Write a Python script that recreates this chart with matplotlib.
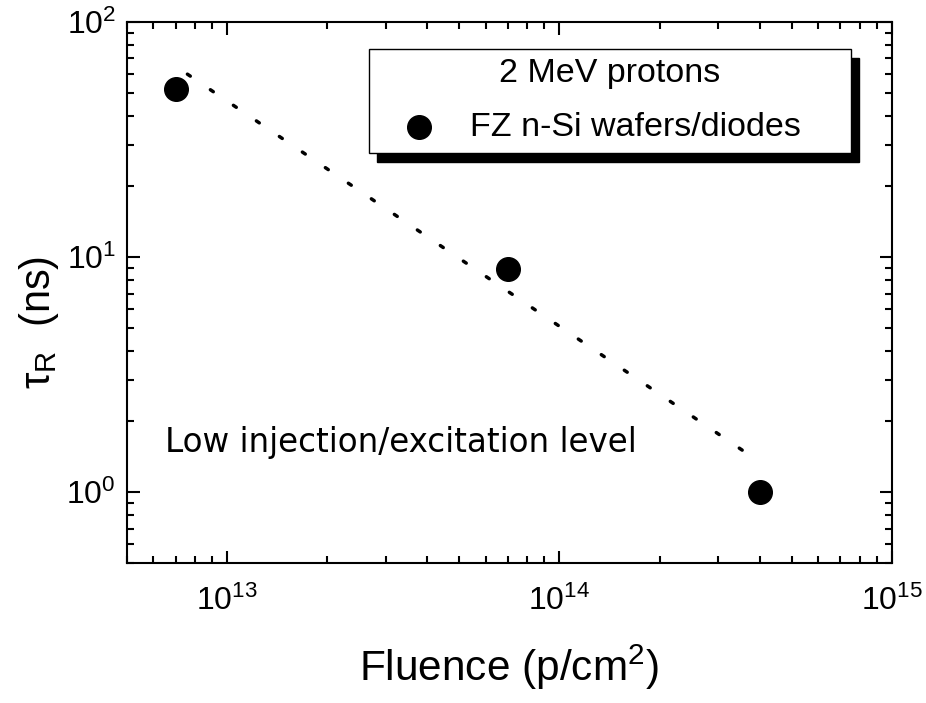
import matplotlib
matplotlib.use("Agg")
import matplotlib.pyplot as plt
from matplotlib.patches import Rectangle

plt.rcParams['font.family'] = ['Liberation Sans', 'DejaVu Sans']
plt.rcParams['mathtext.fontset'] = 'custom'
plt.rcParams['mathtext.rm'] = 'Liberation Sans'
plt.rcParams['mathtext.it'] = 'Liberation Sans:italic'
plt.rcParams['mathtext.bf'] = 'Liberation Sans:bold'

# measured points
fluence = [7e12, 7e13, 4e14]
tau_r = [52, 8.9, 1.0]

# power-law fit line (dotted)
fit_x = [7.6e12, 3.7e14]
fit_y = [60, 1.45]

legend_title = "2 MeV protons"
series_label = "FZ n-Si wafers/diodes"
note = "Low injection/excitation level"

fig = plt.figure(figsize=(9.26, 7.03), dpi=100)
ax = fig.add_axes([0.1371, 0.1991, 0.8261, 0.7696])

ax.plot(fit_x, fit_y, color='black', lw=2.5, dashes=(1, 7),
        dash_capstyle='round')
ax.plot(fluence, tau_r, 'o', color='black', ms=17, zorder=3)

ax.set_xscale('log')
ax.set_yscale('log')
ax.set_xlim(5e12, 1e15)
ax.set_ylim(0.5, 100)

for s in ax.spines.values():
    s.set_linewidth(1.5)
ax.tick_params(which='both', direction='in', top=True, right=True, width=1.5)
ax.tick_params(which='major', length=9)
ax.tick_params(which='minor', length=5)
ax.tick_params(axis='x', which='major', labelsize=23, pad=16)
ax.tick_params(axis='y', which='major', labelsize=23, pad=8)

ax.set_xlabel('Fluence (p/cm$^2$)', fontsize=30.5, labelpad=19)
ax.set_ylabel('τ$_\\mathregular{R}$  (ns)', fontsize=30, y=0.444, labelpad=4)

ax.text(0.0497, 0.2237, note, transform=ax.transAxes, fontsize=23.5,
        family='DejaVu Sans', va='center')

# legend box with hard shadow
ax.add_patch(Rectangle((0.3163 + 0.0105, 0.7579 - 0.0166), 0.6301, 0.1922,
                       transform=ax.transAxes, facecolor='black',
                       edgecolor='black', zorder=4))
ax.add_patch(Rectangle((0.3163, 0.7579), 0.6301, 0.1922,
                       transform=ax.transAxes, facecolor='white',
                       edgecolor='black', lw=1, zorder=5))
ax.text(0.6314, 0.9039, legend_title, transform=ax.transAxes, fontsize=24.5,
        ha='center', va='center', zorder=6)
ax.plot([0.3817], [0.8059], 'o', color='black', ms=17,
        transform=ax.transAxes, zorder=6)
ax.text(0.4484, 0.8059, series_label, transform=ax.transAxes, fontsize=24.5,
        ha='left', va='center', zorder=6)

fig.savefig('out.png', dpi=100)
